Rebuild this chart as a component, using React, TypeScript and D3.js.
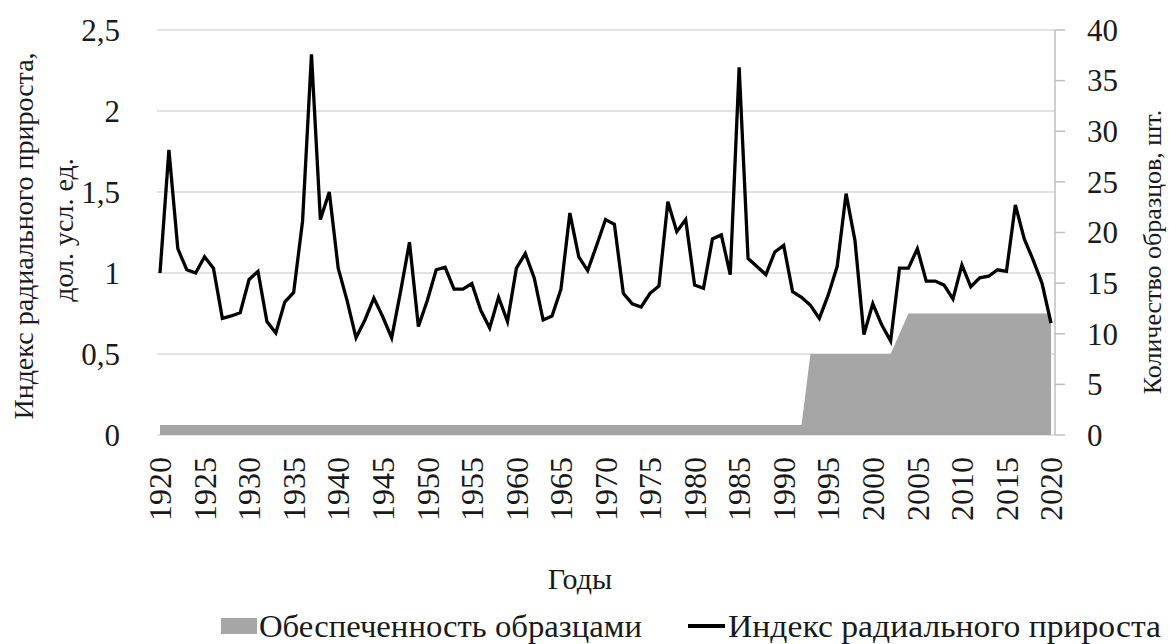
import React, { useEffect, useRef } from "react";
import * as d3 from "d3";

// годы 1920–2020
const years = d3.range(1920, 2021);

// индекс радиального прироста, дол. усл. ед.
const growthIndex = [
  1.0, 1.76, 1.15, 1.02, 1.0, 1.1, 1.03, 0.72, 0.735, 0.755,
  0.96, 1.01, 0.7, 0.63, 0.82, 0.88, 1.32, 2.35, 1.33, 1.5,
  1.03, 0.83, 0.6, 0.71, 0.845, 0.73, 0.6, 0.885, 1.19, 0.67,
  0.83, 1.02, 1.035, 0.9, 0.9, 0.935, 0.77, 0.66, 0.85, 0.7,
  1.03, 1.12, 0.97, 0.71, 0.735, 0.9, 1.37, 1.1, 1.015, 1.17,
  1.33, 1.3, 0.875, 0.81, 0.79, 0.875, 0.92, 1.44, 1.255, 1.33,
  0.925, 0.905, 1.21, 1.235, 0.99, 2.27, 1.09, 1.04, 0.99, 1.13,
  1.17, 0.885, 0.85, 0.8, 0.72, 0.865, 1.04, 1.49, 1.2, 0.62,
  0.81, 0.68, 0.58, 1.03, 1.03, 1.15, 0.95, 0.95, 0.925, 0.84,
  1.05, 0.915, 0.97, 0.98, 1.02, 1.01, 1.42, 1.21, 1.08, 0.935,
  0.69,
];

// количество образцов, шт.
const sampleCount = [
  1, 1, 1, 1, 1, 1, 1, 1, 1, 1,
  1, 1, 1, 1, 1, 1, 1, 1, 1, 1,
  1, 1, 1, 1, 1, 1, 1, 1, 1, 1,
  1, 1, 1, 1, 1, 1, 1, 1, 1, 1,
  1, 1, 1, 1, 1, 1, 1, 1, 1, 1,
  1, 1, 1, 1, 1, 1, 1, 1, 1, 1,
  1, 1, 1, 1, 1, 1, 1, 1, 1, 1,
  1, 1, 1, 8, 8, 8, 8, 8, 8, 8,
  8, 8, 8, 10, 12, 12, 12, 12, 12, 12,
  12, 12, 12, 12, 12, 12, 12, 12, 12, 12,
  12,
];

const leftTicks = [0, 0.5, 1, 1.5, 2, 2.5];
const rightTicks = [0, 5, 10, 15, 20, 25, 30, 35, 40];
const yearTicks = d3.range(1920, 2021, 5);

const FONT = '"Liberation Serif", "Times New Roman", "DejaVu Serif", serif';

export default function App() {
  const ref = useRef<SVGSVGElement>(null);

  useEffect(() => {
    const svg = d3.select(ref.current);
    svg.selectAll("*").remove();

    const x = d3.scaleLinear().domain([1920, 2020]).range([160, 1051]);
    const yL = d3.scaleLinear().domain([0, 2.5]).range([435, 30]);
    const yR = d3.scaleLinear().domain([0, 40]).range([435, 30]);

    // gridlines
    svg
      .append("g")
      .selectAll("line")
      .data(leftTicks)
      .join("line")
      .attr("x1", 157)
      .attr("x2", 1055)
      .attr("y1", (d) => yL(d))
      .attr("y2", (d) => yL(d))
      .attr("stroke", "#d9d9d9")
      .attr("stroke-width", 1.5);

    // sample area
    const area = d3
      .area<number>()
      .x((d, i) => x(years[i]))
      .y0(yR(0))
      .y1((d) => yR(d));
    svg
      .append("path")
      .datum(sampleCount)
      .attr("d", area)
      .attr("fill", "#a6a6a6");

    // growth index line
    const line = d3
      .line<number>()
      .x((d, i) => x(years[i]))
      .y((d) => yL(d));
    svg
      .append("path")
      .datum(growthIndex)
      .attr("d", line)
      .attr("fill", "none")
      .attr("stroke", "#000")
      .attr("stroke-width", 3.3);

    // right axis line + ticks
    svg
      .append("line")
      .attr("x1", 1055)
      .attr("x2", 1055)
      .attr("y1", yR(40))
      .attr("y2", yR(0))
      .attr("stroke", "#bfbfbf")
      .attr("stroke-width", 1.5);
    svg
      .append("g")
      .selectAll("line")
      .data(rightTicks)
      .join("line")
      .attr("x1", 1055)
      .attr("x2", 1065)
      .attr("y1", (d) => yR(d))
      .attr("y2", (d) => yR(d))
      .attr("stroke", "#bfbfbf")
      .attr("stroke-width", 1.5);

    const text = svg
      .append("g")
      .style("font-family", FONT)
      .attr("fill", "#1a1a1a");

    // left tick labels
    text
      .append("g")
      .selectAll("text")
      .data(leftTicks)
      .join("text")
      .attr("x", 120)
      .attr("y", (d) => yL(d))
      .attr("dy", "0.35em")
      .attr("text-anchor", "end")
      .attr("font-size", 31)
      .text((d) => String(d).replace(".", ","));

    // right tick labels
    text
      .append("g")
      .selectAll("text")
      .data(rightTicks)
      .join("text")
      .attr("x", 1087)
      .attr("y", (d) => yR(d))
      .attr("dy", "0.35em")
      .attr("font-size", 31)
      .text((d) => d);

    // year labels
    text
      .append("g")
      .selectAll("text")
      .data(yearTicks)
      .join("text")
      .attr("transform", (d) => `translate(${x(d)},457) rotate(-90)`)
      .attr("dy", "0.35em")
      .attr("text-anchor", "end")
      .attr("font-size", 32)
      .text((d) => d);

    // axis titles
    text
      .append("text")
      .attr("transform", "translate(23,236) rotate(-90)")
      .attr("dy", "0.35em")
      .attr("text-anchor", "middle")
      .attr("font-size", 28)
      .text("Индекс радиального прироста,");
    text
      .append("text")
      .attr("transform", "translate(63,230) rotate(-90)")
      .attr("dy", "0.35em")
      .attr("text-anchor", "middle")
      .attr("font-size", 28)
      .text("дол. усл. ед.");
    text
      .append("text")
      .attr("transform", "translate(1161,252) rotate(-90)")
      .attr("text-anchor", "middle")
      .attr("font-size", 26)
      .text("Количество образцов, шт.");
    text
      .append("text")
      .attr("x", 580)
      .attr("y", 589)
      .attr("text-anchor", "middle")
      .attr("font-size", 30)
      .text("Годы");

    // legend
    svg
      .append("rect")
      .attr("x", 221)
      .attr("y", 618)
      .attr("width", 36)
      .attr("height", 16)
      .attr("fill", "#a6a6a6");
    text
      .append("text")
      .attr("x", 259)
      .attr("y", 637)
      .attr("font-size", 31)
      .attr("textLength", 383)
      .attr("lengthAdjust", "spacingAndGlyphs")
      .text("Обеспеченность образцами");
    svg
      .append("line")
      .attr("x1", 688)
      .attr("x2", 725)
      .attr("y1", 626)
      .attr("y2", 626)
      .attr("stroke", "#000")
      .attr("stroke-width", 4);
    text
      .append("text")
      .attr("x", 728)
      .attr("y", 637)
      .attr("font-size", 31)
      .attr("textLength", 433)
      .attr("lengthAdjust", "spacingAndGlyphs")
      .text("Индекс радиального прироста");
  }, []);

  return (
    <svg
      ref={ref}
      width={1169}
      height={644}
      style={{ position: "absolute", left: 0, top: 0, background: "#fff" }}
    />
  );
}
